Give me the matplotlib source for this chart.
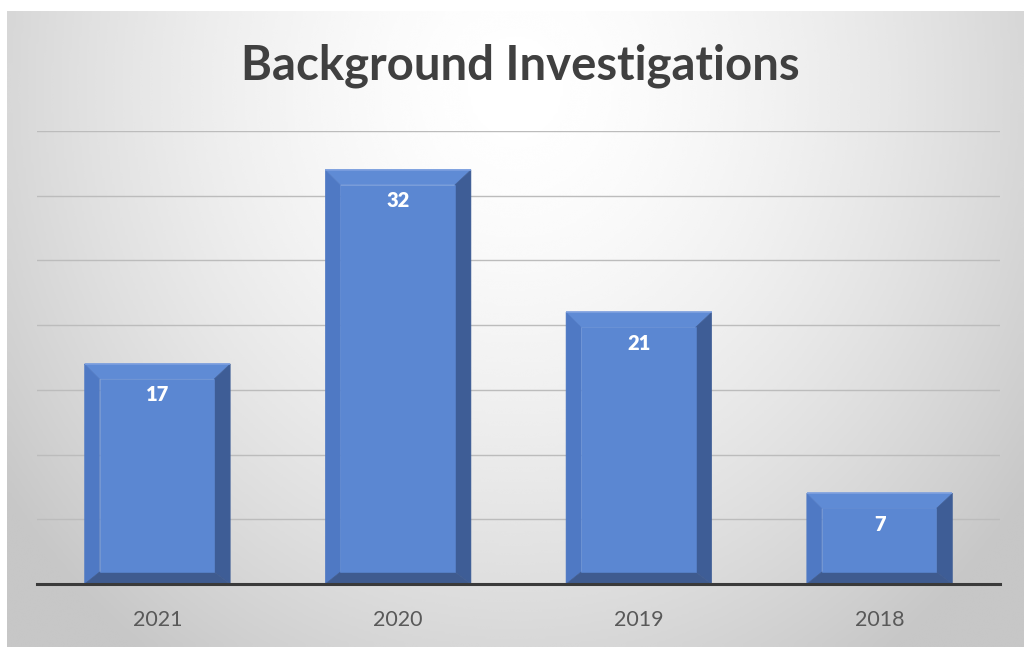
"""
Bar chart of background investigations per year, Excel style with bevelled bars.
"""

import numpy as np
import matplotlib.pyplot as plt
from matplotlib.patches import Polygon

years = ["2021", "2020", "2019", "2018"]
counts = [17, 32, 21, 7]
y_ticks = [0, 5, 10, 15, 20, 25, 30, 35]

W, H = 1024, 647
fig = plt.figure(figsize=(W / 100, H / 100), dpi=100, facecolor="white")

# grey panel with a soft radial highlight near the top
bg = fig.add_axes([7 / W, 0, 1 - 7 / W, 1 - 11 / H], zorder=0)
gx, gy = np.meshgrid(np.linspace(0, 1, 400), np.linspace(0, 1, 260))
dist = np.sqrt(((gx - 0.5) / 0.62) ** 2 + ((gy - 0.12) / 1.1) ** 2)
shade = np.clip(1.0 - 0.22 * dist ** 1.6, 0.78, 1.0)
bg.imshow(shade, cmap="gray", vmin=0, vmax=1, aspect="auto",
          extent=[0, 1, 1, 0], interpolation="bicubic")
bg.axis("off")

ax = fig.add_axes([37 / W, 1 - 584 / H, 963 / W, (584 - 131) / H], zorder=1)
ax.patch.set_alpha(0)
ax.set_xlim(-0.5, len(years) - 0.5)
ax.set_ylim(0, 35)

for t in y_ticks[1:]:
    ax.axhline(t, color="#bcbcbc", lw=1, zorder=1)

# bevelled bars
bar_w = 0.605
px_x = 963 / len(years)          # pixels per category unit
px_y = (584 - 131) / 35          # pixels per value unit
dl, dr, dt, db = 15 / px_x, 16 / px_x, 15 / px_y, 12 / px_y

face = "#5b87d2"
for i, h in enumerate(counts):
    x0, x1 = i - bar_w / 2, i + bar_w / 2
    ix0, ix1, iy0, iy1 = x0 + dl, x1 - dr, db, h - dt
    parts = [
        ([(x0, h), (x1, h), (ix1, iy1), (ix0, iy1)], "#5f8bd5"),
        ([(x0, 0), (x0, h), (ix0, iy1), (ix0, iy0)], "#4f79c4"),
        ([(x1, 0), (x1, h), (ix1, iy1), (ix1, iy0)], "#3e5d96"),
        ([(x0, 0), (x1, 0), (ix1, iy0), (ix0, iy0)], "#3f5b8f"),
        ([(ix0, iy0), (ix1, iy0), (ix1, iy1), (ix0, iy1)], face),
    ]
    for pts, col in parts:
        ax.add_patch(Polygon(pts, closed=True, facecolor=col,
                             edgecolor=col, lw=0.4, zorder=2))
    ax.plot([x0, x1], [h, h], color="#7c9fdf", lw=1.2, zorder=3,
            solid_capstyle="butt")
    ax.annotate(str(h), (i, h), xytext=(0, -31), textcoords="offset pixels",
                ha="center", va="center", color="white", fontsize=14.5,
                fontweight="heavy", family="Lato", zorder=4)

ax.axhline(0, color="#3a3a3a", lw=2.2, zorder=5, clip_on=False)

ax.set_xticks(range(len(years)))
ax.set_xticklabels(years, family="Lato", fontsize=15.5, color="#595959")
ax.tick_params(axis="x", length=0, pad=19)
ax.set_yticks([])
for s in ax.spines.values():
    s.set_visible(False)

fig.text(520 / W, 1 - 66 / H, "Background Investigations", ha="center",
         va="center", fontsize=34, fontweight="bold", family="Lato",
         color="#404040")

plt.savefig("out.png", dpi=100)
